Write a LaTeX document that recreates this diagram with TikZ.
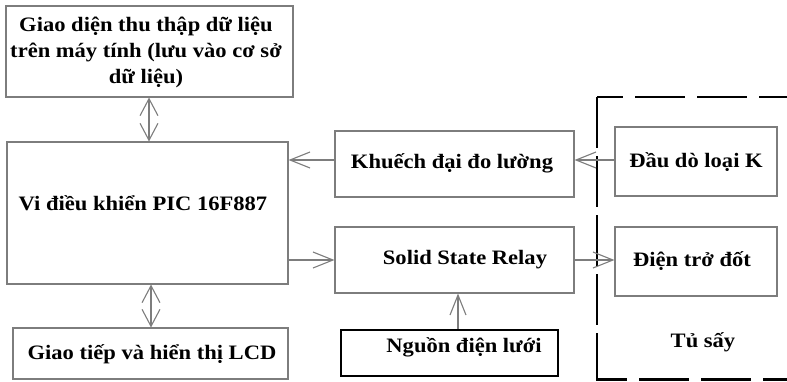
\documentclass[tikz,border=0pt]{standalone}
\usepackage{fontspec}
\setmainfont{Liberation Serif}[FakeStretch=1.1]
\usetikzlibrary{arrows.meta}
\definecolor{boxgray}{RGB}{125,125,125}
\begin{document}
\begin{tikzpicture}[x=1pt,y=-1pt,
  blk/.style={draw=boxgray, line width=1.1pt, inner sep=0pt},
  txt/.style={inner sep=0pt, align=center, font=\fontsize{20.5}{26}\selectfont\bfseries},
  conn/.style={draw=boxgray, line width=1.1pt, -{Straight Barb[length=20pt,width=16pt,line width=1.1pt]}},
  dconn/.style={draw=boxgray, line width=1.1pt, {Straight Barb[length=17pt,width=18pt,line width=1.1pt]}-{Straight Barb[length=17pt,width=18pt,line width=1.1pt]}},
  cab/.style={line width=2.5pt, black}]
\useasboundingbox (0,0) rectangle (787,381);
% boxes
\node[blk, minimum width=287pt, minimum height=91pt] (pc) at (149.5,51.5) {};
\node[txt] (pct) at (146,52) {Giao diện thu thập dữ liệu\\trên máy tính (lưu vào cơ sở\\dữ liệu)};
\node[blk, minimum width=281pt, minimum height=142pt] (pic) at (147.5,213) {};
\node[txt] (pict) at (143,203) {Vi điều khiển PIC 16F887};
\node[blk, minimum width=275pt, minimum height=51pt] (lcd) at (150.5,353.5) {};
\node[txt] (lcdt) at (152,354) {Giao tiếp và hiển thị LCD};
\node[blk, minimum width=239pt, minimum height=66pt] (amp) at (454.5,164) {};
\node[txt] (ampt) at (452,163) {Khuếch đại đo lường};
\node[blk, minimum width=239pt, minimum height=66pt] (ssr) at (454.5,260) {};
\node[txt] (ssrt) at (465,260) {Solid State Relay};
\node[draw=black, line width=2.5pt, inner sep=0pt, minimum width=217pt, minimum height=46pt] (grid) at (449.5,353) {};
\node[txt] (gridt) at (464,347) {Nguồn điện lưới};
\node[blk, minimum width=162pt, minimum height=69pt] (probe) at (696,161.5) {};
\node[txt] (probet) at (696,162) {Đầu dò loại K};
\node[blk, minimum width=162pt, minimum height=69pt] (heat) at (696,261.5) {};
\node[txt] (heatt) at (692,261) {Điện trở đốt};
\node[txt] (cab) at (703,342) {Tủ sấy};
% cabinet boundary
\coordinate (c1) at (597,97);
\coordinate (c2) at (790,97);
\coordinate (c3) at (597,381);
\coordinate (c4) at (597,379.5);
\coordinate (c5) at (790,379.5);
\draw[cab, dash pattern=on 51pt off 8pt] (c1) -- (c3);
\draw[cab, dash pattern=on 50pt off 12pt, dash phase=24pt] (c1) -- (c2);
\draw[cab, dash pattern=on 50pt off 12pt, dash phase=20pt] (c4) -- (c5);
% connectors
\draw[dconn] (pc.south -| 149,0) -- (pic.north -| 149,0);
\draw[dconn] (pic.south -| 151,0) -- (lcd.north -| 151,0);
\draw[conn] (amp.west |- 0,160) -- (pic.east |- 0,160);
\draw[conn] (probe.west |- 0,160) -- (amp.east |- 0,160);
\draw[conn] (pic.east |- 0,260) -- (ssr.west |- 0,260);
\draw[conn] (ssr.east |- 0,260) -- (heat.west |- 0,260);
\draw[conn] (grid.north -| 458,0) -- (ssr.south -| 458,0);
\end{tikzpicture}
\end{document}
